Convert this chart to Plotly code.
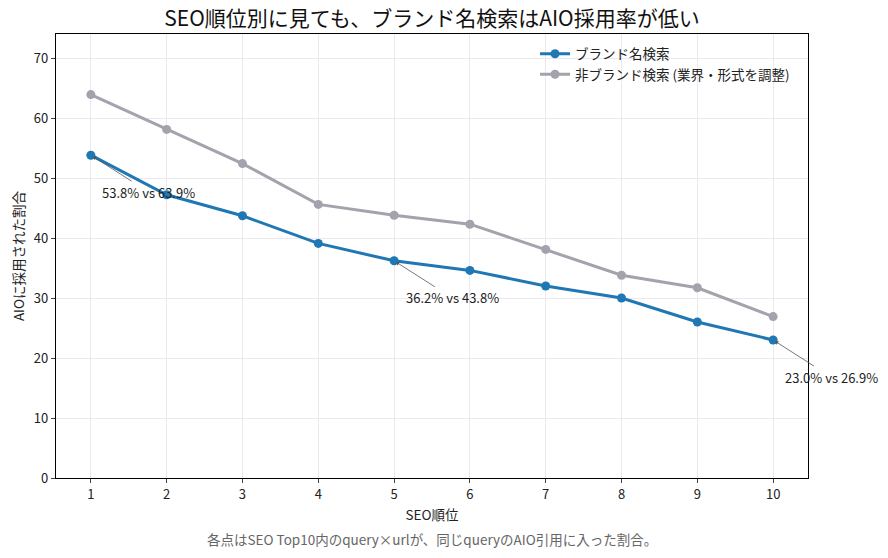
import plotly.graph_objects as go

ranks = [1, 2, 3, 4, 5, 6, 7, 8, 9, 10]
brand = [53.8, 47.2, 43.7, 39.1, 36.2, 34.6, 32.0, 30.0, 26.0, 23.0]
nonbrand = [63.9, 58.1, 52.4, 45.6, 43.8, 42.3, 38.1, 33.8, 31.7, 26.9]
annot_ranks = [1, 5, 10]

FONT = "Noto Sans CJK JP, Noto Sans, sans-serif"
BLUE = "#1f77b4"
GRAY = "#a3a3ad"

fig = go.Figure()
fig.add_trace(go.Scatter(x=ranks, y=brand, mode="lines+markers", name="ブランド名検索",
                         line=dict(color=BLUE, width=3), marker=dict(size=9, color=BLUE)))
fig.add_trace(go.Scatter(x=ranks, y=nonbrand, mode="lines+markers", name="非ブランド検索 (業界・形式を調整)",
                         line=dict(color=GRAY, width=3), marker=dict(size=9, color=GRAY)))

for r in annot_ranks:
    i = ranks.index(r)
    fig.add_annotation(x=r, y=brand[i], xref="x", yref="y",
                       text=f"{brand[i]:.1f}% vs {nonbrand[i]:.1f}%",
                       showarrow=True, arrowhead=1, arrowsize=1, arrowwidth=0.8,
                       arrowcolor="#555555", ax=58, ay=37, standoff=3,
                       font=dict(family=FONT, size=13, color="#222222"))

fig.add_annotation(x=0.5, y=0.0, xref="paper", yref="paper", xanchor="center", yanchor="top",
                   yshift=-49, text="各点はSEO Top10内のquery×urlが、同じqueryのAIO引用に入った割合。",
                   showarrow=False, font=dict(family=FONT, size=13.5, color="#666666"))

fig.update_layout(
    width=888, height=558,
    margin=dict(l=56, r=80, t=34, b=80),
    paper_bgcolor="white", plot_bgcolor="white",
    font=dict(family=FONT, size=13, color="#222222"),
    title=dict(text="SEO順位別に見ても、ブランド名検索はAIO採用率が低い", x=0.5, xref="paper", xanchor="center",
               y=0.966, yanchor="middle", font=dict(family=FONT, size=21, color="#111111")),
    legend=dict(x=0.637, y=0.99, xanchor="left", yanchor="top", bgcolor="rgba(255,255,255,0)",
                font=dict(family=FONT, size=13.5), tracegroupgap=2),
    showlegend=True,
)
fig.update_xaxes(range=[0.54, 10.46], tickmode="array", tickvals=ranks, ticks="outside", ticklen=4,
                 showline=True, linecolor="black", linewidth=1.2, mirror=True,
                 showgrid=True, gridcolor="#ebe8f2", zeroline=False,
                 title=dict(text="SEO順位", font=dict(family=FONT, size=13.5), standoff=8),
                 tickfont=dict(family=FONT, size=13))
fig.update_yaxes(range=[0, 74], tickvals=[0, 10, 20, 30, 40, 50, 60, 70], ticks="outside", ticklen=4,
                 showline=True, linecolor="black", linewidth=1.2, mirror=True,
                 showgrid=True, gridcolor="#ebe8f2", zeroline=False,
                 title=dict(text="AIOに採用された割合", font=dict(family=FONT, size=13.5), standoff=6),
                 tickfont=dict(family=FONT, size=13))

fig.write_html("out.html")
